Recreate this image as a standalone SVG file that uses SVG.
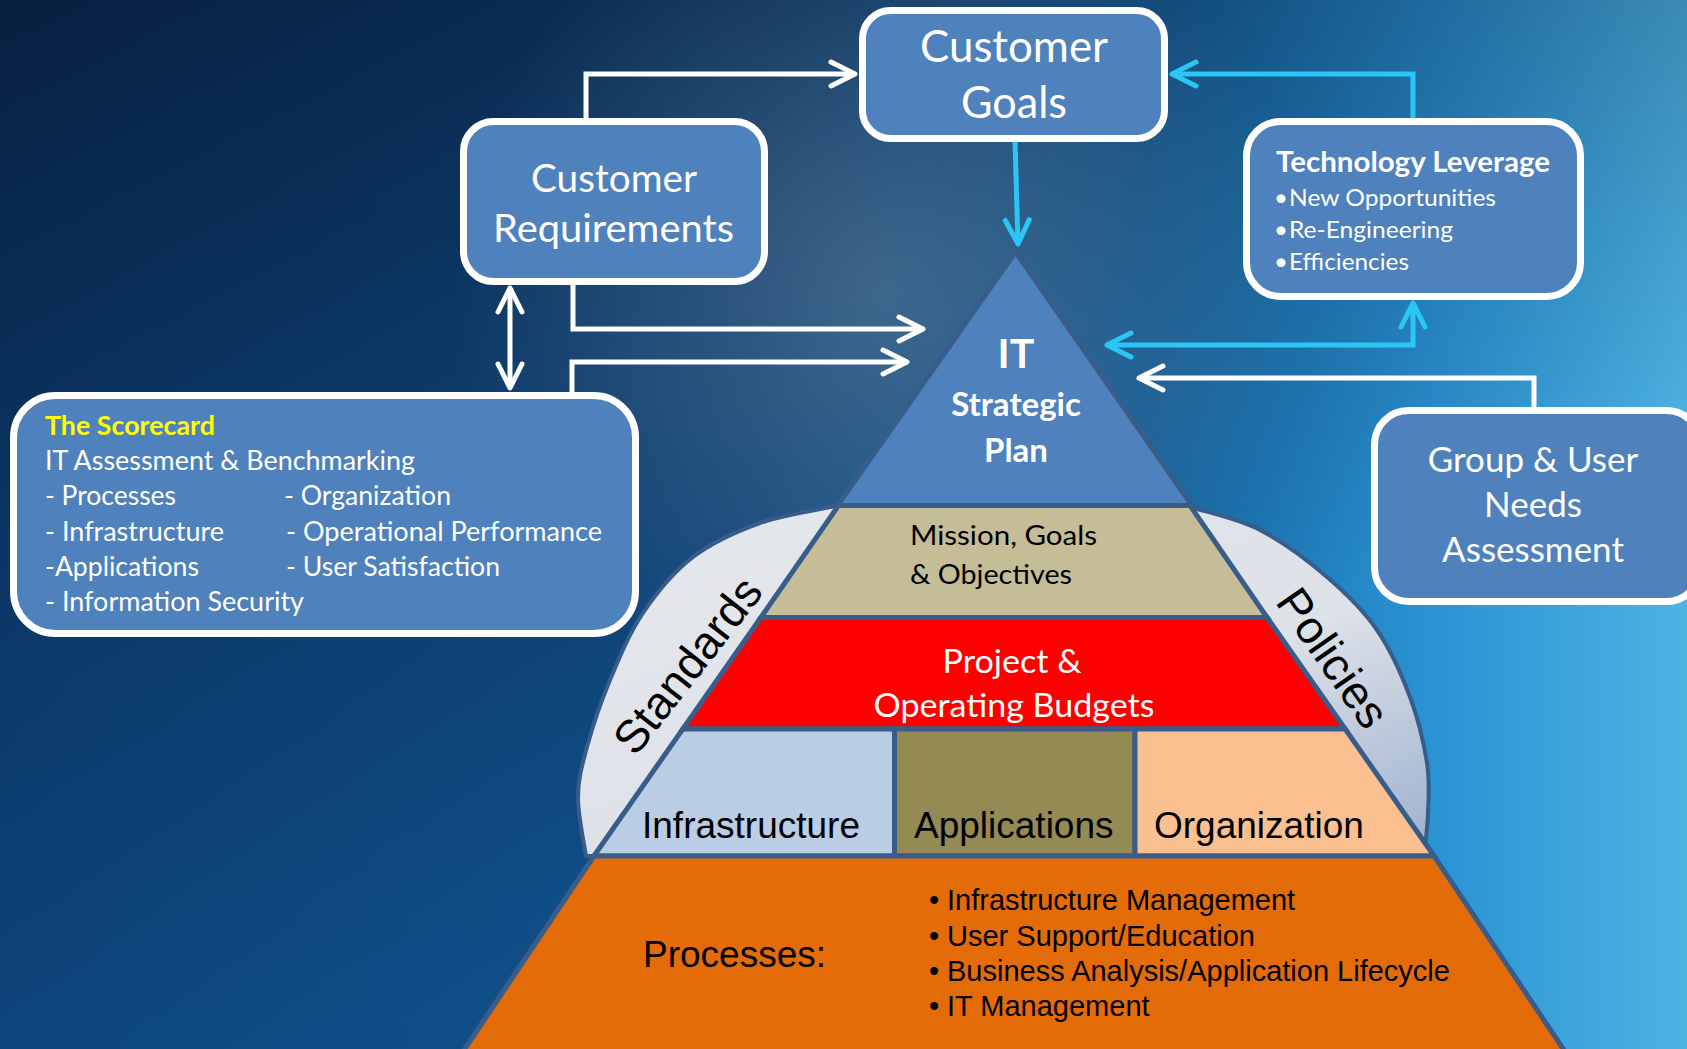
<svg xmlns="http://www.w3.org/2000/svg" width="1687" height="1049" viewBox="0 0 1687 1049">
<defs>
<style>
.box{fill:#4f81bd;stroke:#fff;stroke-width:7}
.lt{font-family:Lato,"Liberation Sans",sans-serif}
.ar{font-family:"Liberation Sans",Arial,sans-serif}
.w{fill:#fff}
.k{fill:#000}
.band{stroke:#385d8a;stroke-width:5;stroke-linejoin:miter}
.cw{fill:none;stroke:#fff;stroke-width:5}
.cc{fill:none;stroke:#2cc6f6;stroke-width:5}
</style>
<linearGradient id="bgH" x1="0" y1="0" x2="1" y2="0">
<stop offset="0" stop-color="#0e4a84"/>
<stop offset="0.45" stop-color="#11508a"/>
<stop offset="0.68" stop-color="#166aa8"/>
<stop offset="0.85" stop-color="#2a93d3"/>
<stop offset="1" stop-color="#4db3e3"/>
</linearGradient>
<linearGradient id="bgV" x1="0" y1="0" x2="0.55" y2="0.75">
<stop offset="0" stop-color="#061530" stop-opacity="0.8"/>
<stop offset="0.5" stop-color="#061530" stop-opacity="0.35"/>
<stop offset="1" stop-color="#061530" stop-opacity="0"/>
</linearGradient>
<radialGradient id="bgR" cx="880" cy="290" r="430" gradientUnits="userSpaceOnUse">
<stop offset="0" stop-color="#7891a8" stop-opacity="0.45"/>
<stop offset="1" stop-color="#7891a8" stop-opacity="0"/>
</radialGradient>
<linearGradient id="dome" x1="0" y1="0" x2="1" y2="1">
<stop offset="0" stop-color="#e6e8ec"/>
<stop offset="0.6" stop-color="#dde1e8"/>
<stop offset="1" stop-color="#9cb0cf"/>
</linearGradient>
<marker id="mw" markerUnits="userSpaceOnUse" viewBox="-30 -16 34 32" markerWidth="34" markerHeight="32" refX="0" refY="0" orient="auto-start-reverse">
<path d="M-24,-12 L0,0 L-24,12" fill="none" stroke="#fff" stroke-width="5" stroke-linecap="round" stroke-linejoin="round"/>
</marker>
<marker id="mc" markerUnits="userSpaceOnUse" viewBox="-30 -16 34 32" markerWidth="34" markerHeight="32" refX="0" refY="0" orient="auto-start-reverse">
<path d="M-24,-12 L0,0 L-24,12" fill="none" stroke="#2cc6f6" stroke-width="5" stroke-linecap="round" stroke-linejoin="round"/>
</marker>
</defs>

<g id="background">
<rect width="1687" height="1049" fill="url(#bgH)"/>
<rect width="1687" height="1049" fill="url(#bgV)"/>
<rect width="1687" height="1049" fill="url(#bgR)"/>
</g>

<g id="dome">
<path d="M836 506 C823.3 508.8 783.8 514.5 760 523 C736.2 531.5 712.5 542 693 557 C673.5 572 656.8 592.5 643 613 C629.2 633.5 619.3 657.7 610 680 C600.7 702.3 592.3 727.5 587 747 C581.7 766.5 578.2 778.8 578 797 C577.8 815.2 584.7 846.2 586 856 L1424 856 C1424.7 848.8 1427.5 828.5 1428 813 C1428.5 797.5 1430 782.3 1427 763 C1424 743.7 1418.3 719.2 1410 697 C1401.7 674.8 1390.8 650 1377 630 C1363.2 610 1346.5 593.7 1327 577 C1307.5 560.3 1282.2 541.5 1260 530 C1237.8 518.5 1205 511.7 1194 508 Z" fill="url(#dome)" stroke="#385d8a" stroke-width="4"/>
<text class="ar k" font-size="46" text-anchor="middle" transform="translate(700 675) rotate(-52)">Standards</text>
<text class="ar k" font-size="46" text-anchor="middle" transform="translate(1320 667) rotate(55)">Policies</text>
</g>

<g id="pyramid">
<g id="strategic-plan">
<polygon class="band" points="1015.5,252 837.5,505.5 1192,505.5" fill="#4f81bd"/>
<text class="lt w" font-weight="bold" text-anchor="middle" font-size="41" x="1016" y="368">IT</text>
<text class="lt w" font-weight="bold" text-anchor="middle" font-size="33" x="1016" y="416">Strategic</text>
<text class="lt w" font-weight="bold" text-anchor="middle" font-size="33" x="1016" y="462">Plan</text>
</g>
<g id="mission">
<polygon class="band" points="838.5,505.5 1190,505.5 1267.15,617.5 760.85,617.5" fill="#c4bd97"/>
<text class="lt k" font-size="27" x="910" y="545" textLength="187" lengthAdjust="spacingAndGlyphs">Mission, Goals</text>
<text class="lt k" font-size="27" x="910" y="584" textLength="162" lengthAdjust="spacingAndGlyphs">&amp; Objectives</text>
</g>
<g id="budgets">
<polygon class="band" points="760.85,617.5 1267.15,617.5 1345.2,729 682.8,729" fill="#ff0000"/>
<text class="lt w" font-size="32" text-anchor="middle" x="1012" y="673" textLength="139" lengthAdjust="spacingAndGlyphs">Project &amp;</text>
<text class="lt w" font-size="32" text-anchor="middle" x="1014" y="717" textLength="281" lengthAdjust="spacingAndGlyphs">Operating Budgets</text>
</g>
<g id="infrastructure">
<polygon class="band" points="682.8,729 894.5,729 894.5,856 593.9,856" fill="#b9cde5"/>
<text class="ar k" font-size="37" x="642" y="838">Infrastructure</text>
</g>
<g id="applications">
<polygon class="band" points="894.5,729 1135,729 1135,856 894.5,856" fill="#948a54"/>
<text class="ar k" font-size="37" x="914" y="838">Applications</text>
</g>
<g id="organization">
<polygon class="band" points="1135,729 1345.2,729 1434.1,856 1135,856" fill="#fac090"/>
<text class="ar k" font-size="37" x="1154" y="838">Organization</text>
</g>
<g id="processes">
<polygon class="band" points="593.9,856 1434.1,856 1568,1056 460,1056" fill="#e36c09"/>
<text class="ar k" font-size="37" x="643" y="967">Processes:</text>
<text class="ar k" font-size="29"><tspan x="929" y="910">•</tspan><tspan x="947" y="910">Infrastructure Management</tspan></text>
<text class="ar k" font-size="29"><tspan x="929" y="945.5">•</tspan><tspan x="947" y="945.5">User Support/Education</tspan></text>
<text class="ar k" font-size="29"><tspan x="929" y="981">•</tspan><tspan x="947" y="981">Business Analysis/Application Lifecycle</tspan></text>
<text class="ar k" font-size="29"><tspan x="929" y="1016">•</tspan><tspan x="947" y="1016">IT Management</tspan></text>
</g>
</g>

<g id="connectors">
<path class="cw" d="M586 118 V74 H855" marker-end="url(#mw)"/>
<path class="cw" d="M573 285 V329 H923" marker-end="url(#mw)"/>
<path class="cw" d="M572 392 V362 H907" marker-end="url(#mw)"/>
<path class="cw" d="M510 288 V388" marker-start="url(#mw)" marker-end="url(#mw)"/>
<path class="cw" d="M1534 407 V378 H1139" marker-end="url(#mw)"/>
<path class="cc" d="M1015 141 L1018 244" marker-end="url(#mc)"/>
<path class="cc" d="M1413 118 V74 H1172" marker-end="url(#mc)"/>
<path class="cc" d="M1107 345 H1413 V303" marker-start="url(#mc)" marker-end="url(#mc)"/>
</g>

<g id="customer-goals">
<rect class="box" x="862.5" y="10.5" width="302" height="128" rx="28"/>
<text class="lt w" font-size="44" text-anchor="middle" x="1014" y="62" textLength="188" lengthAdjust="spacingAndGlyphs">Customer</text>
<text class="lt w" font-size="44" text-anchor="middle" x="1014" y="118" textLength="106" lengthAdjust="spacingAndGlyphs">Goals</text>
</g>

<g id="customer-requirements">
<rect class="box" x="463.5" y="121.5" width="301" height="160" rx="30"/>
<text class="lt w" font-size="39" text-anchor="middle" x="614" y="192" textLength="166" lengthAdjust="spacingAndGlyphs">Customer</text>
<text class="lt w" font-size="39" text-anchor="middle" x="613.5" y="242" textLength="241" lengthAdjust="spacingAndGlyphs">Requirements</text>
</g>

<g id="technology-leverage">
<rect class="box" x="1246.5" y="121.5" width="334" height="175" rx="34"/>
<text class="lt w" font-size="28" font-weight="bold" x="1276" y="172" textLength="274" lengthAdjust="spacingAndGlyphs">Technology Leverage</text>
<text class="lt w" font-size="24"><tspan x="1274" y="206">•</tspan><tspan x="1289" y="206" textLength="207" lengthAdjust="spacingAndGlyphs">New Opportunities</tspan></text>
<text class="lt w" font-size="24"><tspan x="1274" y="238">•</tspan><tspan x="1289" y="238" textLength="164" lengthAdjust="spacingAndGlyphs">Re-Engineering</tspan></text>
<text class="lt w" font-size="24"><tspan x="1274" y="270">•</tspan><tspan x="1289" y="270" textLength="120" lengthAdjust="spacingAndGlyphs">Efficiencies</tspan></text>
</g>

<g id="group-user-needs">
<rect class="box" x="1374.5" y="410.5" width="326" height="191" rx="34"/>
<text class="lt w" font-size="35" text-anchor="middle" x="1533" y="472">Group &amp; User</text>
<text class="lt w" font-size="35" text-anchor="middle" x="1533" y="517">Needs</text>
<text class="lt w" font-size="35" text-anchor="middle" x="1533" y="562">Assessment</text>
</g>

<g id="scorecard">
<rect class="box" x="13.5" y="395.5" width="622" height="238" rx="42"/>
<text class="lt" fill="#ffff00" font-size="26" font-weight="bold" x="45" y="435" textLength="170" lengthAdjust="spacingAndGlyphs">The Scorecard</text>
<text class="lt w" font-size="26" x="45" y="470" textLength="370" lengthAdjust="spacingAndGlyphs">IT Assessment &amp; Benchmarking</text>
<text class="lt w" font-size="26" x="45" y="505" textLength="131" lengthAdjust="spacingAndGlyphs">- Processes</text>
<text class="lt w" font-size="26" x="284" y="505" textLength="167" lengthAdjust="spacingAndGlyphs">- Organization</text>
<text class="lt w" font-size="26" x="45" y="540.5" textLength="179" lengthAdjust="spacingAndGlyphs">- Infrastructure</text>
<text class="lt w" font-size="26" x="286" y="540.5" textLength="316" lengthAdjust="spacingAndGlyphs">- Operational Performance</text>
<text class="lt w" font-size="26" x="45" y="575.5" textLength="154" lengthAdjust="spacingAndGlyphs">-Applications</text>
<text class="lt w" font-size="26" x="286" y="575.5" textLength="214" lengthAdjust="spacingAndGlyphs">- User Satisfaction</text>
<text class="lt w" font-size="26" x="45" y="610.5" textLength="259" lengthAdjust="spacingAndGlyphs">- Information Security</text>
</g>
</svg>
